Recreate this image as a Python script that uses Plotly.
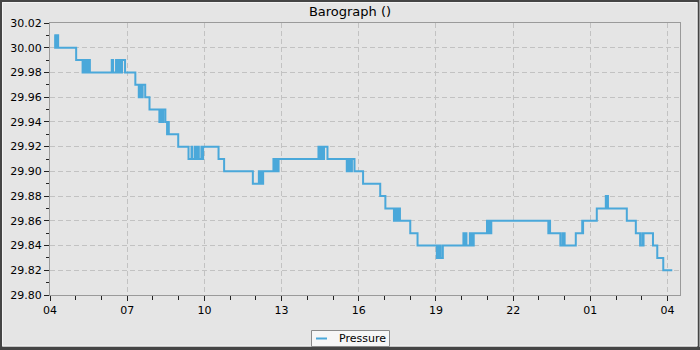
import plotly.graph_objects as go

D1 = "2024-03-04 "
D2 = "2024-03-05 "

times_day1 = [
    "04:10", "04:12", "04:13", "04:15", "04:16", "04:19", "05:01", "05:16", "05:18", "05:20",
    "05:23", "05:25", "05:28", "05:30", "05:32", "05:33", "06:24", "06:27", "06:34", "06:36",
    "06:38", "06:40", "06:44", "06:46", "06:48", "06:55", "07:19", "07:27", "07:30", "07:33",
    "07:36", "07:42", "07:52", "08:15", "08:17", "08:21", "08:24", "08:29", "08:33", "08:35",
    "08:37", "08:59", "09:23", "09:30", "09:32", "09:38", "09:41", "09:45", "09:47", "09:53",
    "09:55", "09:57", "10:33", "10:46", "11:53", "12:07", "12:08", "12:11", "12:13", "12:17",
    "12:41", "12:42", "12:44", "12:46", "12:48", "12:50", "12:53", "14:26", "14:28", "14:30",
    "14:33", "14:35", "14:37", "14:39", "14:47", "15:32", "15:34", "15:36", "15:40", "15:42",
    "15:44", "15:50", "16:10", "16:50", "17:02", "17:22", "17:24", "17:27", "17:30", "17:32",
    "17:34", "17:36", "18:00", "18:17", "19:02", "19:04", "19:06", "19:09", "19:11", "19:16",
    "20:04", "20:06", "20:08", "20:11", "20:19", "20:21", "20:23", "20:26", "20:28", "20:59",
    "21:01", "21:04", "21:06", "21:09", "23:22", "23:24", "23:26", "23:50", "23:55", "23:56",
    "23:58",
]
pressure_day1 = [
    30.01, 30.00, 30.01, 30.00, 30.01, 30.00, 29.99, 29.98, 29.99, 29.98,
    29.99, 29.98, 29.99, 29.98, 29.99, 29.98, 29.99, 29.98, 29.99, 29.98,
    29.99, 29.98, 29.99, 29.98, 29.99, 29.98, 29.97, 29.96, 29.97, 29.96,
    29.97, 29.96, 29.95, 29.94, 29.95, 29.94, 29.95, 29.94, 29.93, 29.94,
    29.93, 29.92, 29.91, 29.92, 29.91, 29.92, 29.91, 29.92, 29.91, 29.92,
    29.91, 29.92, 29.91, 29.90, 29.89, 29.90, 29.89, 29.90, 29.89, 29.90,
    29.91, 29.90, 29.91, 29.90, 29.91, 29.90, 29.91, 29.92, 29.91, 29.92,
    29.91, 29.92, 29.91, 29.92, 29.91, 29.90, 29.91, 29.90, 29.91, 29.90,
    29.91, 29.90, 29.89, 29.88, 29.87, 29.86, 29.87, 29.86, 29.87, 29.86,
    29.87, 29.86, 29.85, 29.84, 29.83, 29.84, 29.83, 29.84, 29.83, 29.84,
    29.85, 29.84, 29.85, 29.84, 29.85, 29.84, 29.85, 29.84, 29.85, 29.86,
    29.85, 29.86, 29.85, 29.86, 29.85, 29.86, 29.85, 29.84, 29.85, 29.84,
    29.85,
]
times_day2 = [
    "00:00", "00:26", "00:41", "00:42", "00:43", "01:15", "01:36", "01:37", "01:39", "01:41",
    "02:25", "02:46", "02:56", "03:01", "03:02", "03:04", "03:26", "03:36", "03:50", "04:11",
]
pressure_day2 = [
    29.84, 29.85, 29.86, 29.85, 29.86, 29.87, 29.88, 29.87, 29.88, 29.87,
    29.86, 29.85, 29.84, 29.85, 29.84, 29.85, 29.84, 29.83, 29.82, 29.82,
]

x_range = [D1 + "04:00", D2 + "04:29"]
y_range = [29.80, 30.02]
title_text = "Barograph ()"
series_name = "Pressure"
line_color = "#4aa8da"

times = [D1 + t for t in times_day1] + [D2 + t for t in times_day2]
pressure = pressure_day1 + pressure_day2

fig = go.Figure()
fig.add_trace(go.Scatter(
    x=times, y=pressure, mode="lines", name=series_name,
    line=dict(color=line_color, width=2, shape="hv"),
))

font = dict(family="DejaVu Sans", size=11, color="#000000")

ML, MR, MT, MB = 50, 20, 23, 55
W, H = 700, 350

fig.update_layout(
    width=W, height=H,
    margin=dict(l=ML, r=MR, t=MT, b=MB, autoexpand=False),
    paper_bgcolor="#e5e5e5",
    plot_bgcolor="#e5e5e5",
    font=font,
    title=dict(text=title_text, x=0.5, xanchor="center", y=1 - 11 / H, yanchor="middle",
               font=dict(family="DejaVu Sans", size=13, color="#000000")),
    showlegend=False,
    xaxis=dict(
        type="date", range=x_range, tickformat="%H", dtick=3 * 3600 * 1000,
        tick0=D1 + "04:00",
        showgrid=True, gridcolor="#c2c2c2", griddash="5px,3px", gridwidth=1,
        showline=True, linecolor="#9a9a9a", linewidth=1, mirror=True,
        ticks="outside", ticklen=5, tickcolor="#222222",
        minor=dict(dtick=3600 * 1000, ticks="outside", ticklen=4, tickcolor="#222222", showgrid=False),
        zeroline=False,
    ),
    yaxis=dict(
        range=y_range, dtick=0.02, tick0=29.80, tickformat=".2f",
        showgrid=True, gridcolor="#c2c2c2", griddash="5px,3px", gridwidth=1,
        showline=True, linecolor="#9a9a9a", linewidth=1, mirror=True,
        ticks="outside", ticklen=5, tickcolor="#222222",
        minor=dict(dtick=0.01, ticks="outside", ticklen=3, tickcolor="#222222", showgrid=False),
        zeroline=False,
    ),
)

pw, ph = float(W - ML - MR), float(H - MT - MB)
def px(x):
    return (x - ML) / pw
def py(y):
    return (H - MB - y) / ph

# outer frame of the chart widget
fig.add_shape(type="rect", xref="paper", yref="paper",
              x0=px(1), x1=px(698.5), y0=py(1), y1=py(347.5),
              line=dict(color="#454545", width=2), fillcolor="rgba(0,0,0,0)", layer="above")
fig.add_shape(type="rect", xref="paper", yref="paper",
              x0=px(2.5), x1=px(697), y0=py(2.5), y1=py(346),
              line=dict(color="#f4f4f4", width=1), fillcolor="rgba(0,0,0,0)", layer="above")
fig.add_shape(type="line", xref="paper", yref="paper",
              x0=px(0), x1=px(700), y0=py(348.5), y1=py(348.5),
              line=dict(color="#454545", width=3), layer="above")

# legend box
fig.add_shape(type="rect", xref="paper", yref="paper",
              x0=px(311.5), x1=px(389.5), y0=py(330.5), y1=py(346.5),
              line=dict(color="#8a8a8a", width=1), fillcolor="#f6f6f6", layer="above")
fig.add_shape(type="line", xref="paper", yref="paper",
              x0=px(316), x1=px(327), y0=py(338.5), y1=py(338.5),
              line=dict(color=line_color, width=2), layer="above")
fig.add_annotation(xref="paper", yref="paper", x=px(337), y=py(338.5),
                   xanchor="left", yanchor="middle", showarrow=False,
                   text=series_name, font=dict(family="DejaVu Sans", size=11, color="#000000"))

fig.write_html("out.html")
